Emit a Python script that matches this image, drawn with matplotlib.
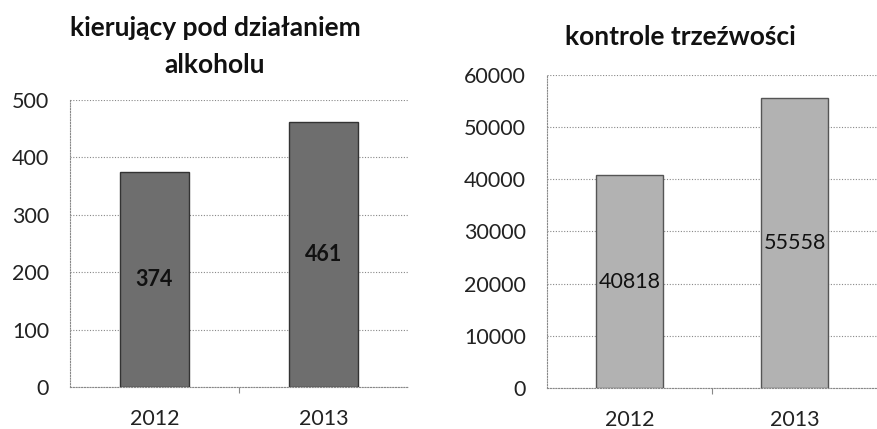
import matplotlib
matplotlib.use("Agg")
import matplotlib.pyplot as plt

plt.rcParams['font.family'] = ['Lato', 'DejaVu Sans']

years = ["2012", "2013"]
drunk_drivers = [374, 461]
sobriety_checks = [40818, 55558]
left_title = ["kierujący pod działaniem", "alkoholu"]
right_title = "kontrole trzeźwości"
left_ticks = [0, 100, 200, 300, 400, 500]
right_ticks = [0, 10000, 20000, 30000, 40000, 50000, 60000]

W, H = 877, 429
fig = plt.figure(figsize=(W / 100, H / 100), dpi=100)


def px_axes(x0, y_top, x1, y_bot):
    return fig.add_axes([x0 / W, (H - y_bot) / H, (x1 - x0) / W, (y_bot - y_top) / H])


def px_text(x, y, s, **kw):
    fig.text(x / W, (H - y) / H, s, ha="center", va="center", **kw)


def style(ax, ticks, color, edge, values, label_weight):
    x = list(range(len(years)))
    ax.bar(x, values, width=0.41, color=color, edgecolor=edge, linewidth=1.0, zorder=3)
    ax.set_xlim(-0.5, 1.5)
    ax.set_ylim(ticks[0], ticks[-1])
    ax.set_yticks(ticks)
    ax.set_yticklabels([str(t) for t in ticks], fontsize=15.5, color="#222222")
    ax.set_xticks(x)
    ax.set_xticklabels(years, fontsize=15.5, color="#222222")
    ax.tick_params(axis="y", length=0, pad=15)
    ax.tick_params(axis="x", length=0, pad=16)
    ax.set_xticks([0.5], minor=True)
    ax.tick_params(axis="x", which="minor", length=4, color="#888888", width=0.8)
    ax.grid(axis="y", linestyle=(0, (1, 1.5)), color="#888888", linewidth=0.8, zorder=0)
    for s in ["top", "right"]:
        ax.spines[s].set_visible(False)
    for s in ["left", "bottom"]:
        ax.spines[s].set_linestyle((0, (1, 1.5)))
        ax.spines[s].set_color("#888888")
        ax.spines[s].set_linewidth(0.8)
    for xi, v in zip(x, values):
        ax.text(xi, v / 2, str(v), ha="center", va="center", fontsize=15.5,
                color="#111111", fontweight=label_weight, zorder=4)


ax1 = px_axes(70, 100, 408, 387)
style(ax1, left_ticks, "#6e6e6e", "#333333", drunk_drivers, "bold")
px_text(215, 28, left_title[0], fontsize=19, fontweight="bold", color="#111111")
px_text(215, 65, left_title[1], fontsize=19, fontweight="bold", color="#111111")

ax2 = px_axes(547, 75, 877, 388)
style(ax2, right_ticks, "#b2b2b2", "#555555", sobriety_checks, "normal")
px_text(680, 37, right_title, fontsize=19, fontweight="bold", color="#111111")

fig.savefig("out.png", dpi=100)
